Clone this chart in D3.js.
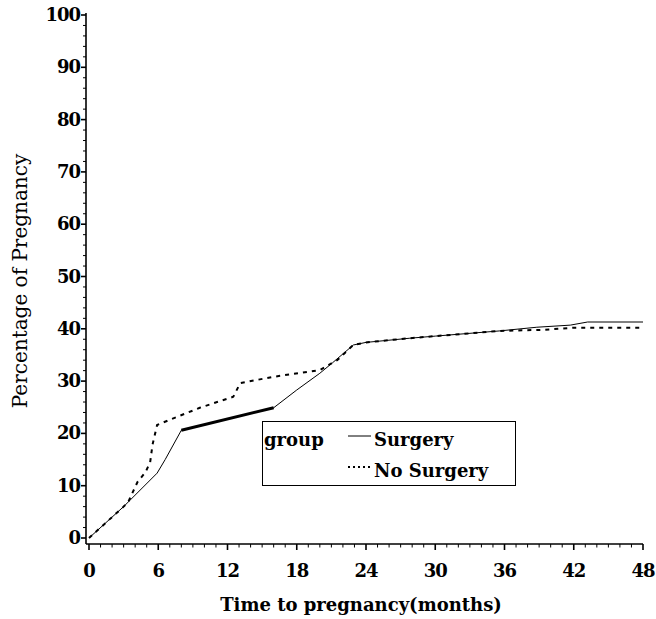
<!DOCTYPE html>
<html>
<head>
<meta charset="utf-8">
<script src="https://cdn.jsdelivr.net/npm/d3@7"></script>
<style>
  body { margin: 0; background: #fff; }
  text { font-family: "DejaVu Serif", serif; fill: #000; }
</style>
</head>
<body>
<div id="chart"></div>
<script>
// data
var xTicks = [0, 6, 12, 18, 24, 30, 36, 42, 48];
var yTicks = [0, 10, 20, 30, 40, 50, 60, 70, 80, 90, 100];
var seriesNames = ["Surgery", "No Surgery"];

var surgeryMonths = [0, 2.5, 3, 5.9, 6.6, 8, 16, 18, 20, 21.1, 22.9, 24, 27.8, 30, 35.6, 38.8, 41.7, 43.2, 48];
var surgeryPct    = [0, 5, 6, 12.4, 15, 20.6, 24.9, 28.3, 31.5, 33.5, 36.9, 37.4, 38.2, 38.6, 39.6, 40.3, 40.7, 41.3, 41.3];
var surgeryBold = [8, 16]; // heavier stretch of the solid curve

var noSurgeryMonths = [0, 2.95, 3.4, 4.2, 4.9, 5.3, 5.5, 5.9, 7, 9.6, 11.1, 12.5, 13.1, 15.9, 20, 21.5, 22.9, 24, 27.8, 30, 35.6, 39.3, 42, 48];
var noSurgeryPct    = [0, 5.9, 6.9, 10.7, 12.6, 14.5, 17.8, 21.6, 22.6, 24.9, 26, 27, 29.6, 30.8, 32.1, 34, 36.9, 37.4, 38.2, 38.6, 39.6, 39.8, 40.2, 40.2];

//1) svg
var svgWidth = 656, svgHeight = 619;
var svg = d3.select("#chart").append("svg")
    .attr("width", svgWidth)
    .attr("height", svgHeight);

//2) scales
var x = d3.scaleLinear().domain([0, 48]).range([89, 643]);
var y = d3.scaleLinear().domain([0, 100]).range([538, 15]);
var axisX = 86, axisY = 544;

//3) x axis: minor ticks every month, major every 6
var minorX = d3.range(0, 49, 1);
svg.append("g").selectAll("line").data(minorX).enter().append("line")
    .attr("x1", d => x(d)).attr("x2", d => x(d))
    .attr("y1", axisY).attr("y2", d => axisY + (d % 6 === 0 ? 6 : 3.5))
    .attr("stroke", "#000").attr("stroke-width", d => d % 6 === 0 ? 1.6 : 1);
svg.append("line")
    .attr("x1", axisX).attr("x2", x(48))
    .attr("y1", axisY).attr("y2", axisY)
    .attr("stroke", "#000").attr("stroke-width", 1.6);
svg.append("g").selectAll("text").data(xTicks).enter().append("text")
    .attr("x", d => x(d)).attr("y", 577)
    .attr("text-anchor", "middle")
    .style("font-size", "18px").style("font-weight", "bold")
    .style("letter-spacing", "-1px")
    .text(d => d);

//4) y axis: minor every 2, major every 10
var minorY = d3.range(0, 101, 2);
svg.append("g").selectAll("line").data(minorY).enter().append("line")
    .attr("x1", d => axisX - (d % 10 === 0 ? 5 : 3)).attr("x2", axisX)
    .attr("y1", d => y(d)).attr("y2", d => y(d))
    .attr("stroke", "#000").attr("stroke-width", d => d % 10 === 0 ? 1.6 : 1);
svg.append("line")
    .attr("x1", axisX).attr("x2", axisX)
    .attr("y1", y(100) - 2).attr("y2", axisY)
    .attr("stroke", "#000").attr("stroke-width", 1.6);
svg.append("g").selectAll("text").data(yTicks).enter().append("text")
    .attr("x", 80).attr("y", d => y(d) + 6)
    .attr("text-anchor", "end")
    .style("font-size", "18px").style("font-weight", "bold")
    .style("letter-spacing", "-1px")
    .text(d => d);

//5) axis titles
svg.append("text")
    .attr("transform", "translate(27, 281) rotate(-90)")
    .attr("text-anchor", "middle")
    .style("font-size", "20px")
    .text("Percentage of Pregnancy");
svg.append("text")
    .attr("x", 361).attr("y", 611)
    .attr("text-anchor", "middle")
    .style("font-size", "18px").style("font-weight", "bold")
    .text("Time to pregnancy(months)");

//6) curves
var line = d3.line().x(d => x(d[0])).y(d => y(d[1]));
var surgery = d3.zip(surgeryMonths, surgeryPct);
var noSurgery = d3.zip(noSurgeryMonths, noSurgeryPct);

svg.append("path").datum(noSurgery)
    .attr("d", line)
    .attr("fill", "none").attr("stroke", "#000")
    .attr("stroke-width", 2).attr("stroke-dasharray", "4,5");
svg.append("path").datum(surgery)
    .attr("d", line)
    .attr("fill", "none").attr("stroke", "#000").attr("stroke-width", 1);
svg.append("path").datum(surgery.filter(d => d[0] >= surgeryBold[0] && d[0] <= surgeryBold[1]))
    .attr("d", line)
    .attr("fill", "none").attr("stroke", "#000").attr("stroke-width", 3);

//7) legend
var legend = svg.append("g");
legend.append("rect")
    .attr("x", 262.5).attr("y", 421.5).attr("width", 253).attr("height", 64)
    .attr("fill", "#fff").attr("stroke", "#000").attr("stroke-width", 1);
legend.append("text")
    .attr("x", 264).attr("y", 446)
    .style("font-size", "18px").style("font-weight", "bold")
    .text("group");
var dash = ["none", "2,3"];
seriesNames.forEach(function(name, i) {
    var ly = 436 + i * 31;
    legend.append("line")
        .attr("x1", 348).attr("x2", 371)
        .attr("y1", ly).attr("y2", ly)
        .attr("stroke", "#000").attr("stroke-width", i ? 2 : 1)
        .attr("stroke-dasharray", dash[i]);
    legend.append("text")
        .attr("x", 374).attr("y", ly + 10)
        .style("font-size", "18px").style("font-weight", "bold")
        .text(name);
});
</script>
</body>
</html>
